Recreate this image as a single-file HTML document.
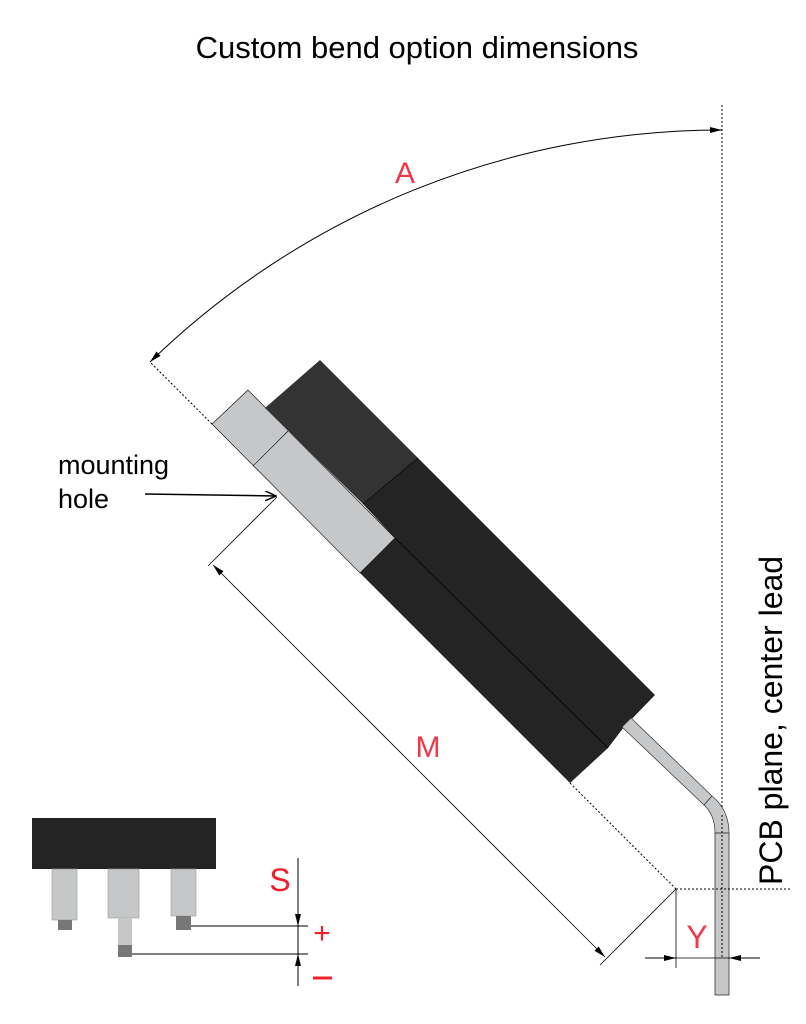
<!DOCTYPE html>
<html><head><style>body{margin:0;background:#fff}svg{display:block}</style></head><body>
<svg width="806" height="1024" viewBox="0 0 806 1024" xmlns="http://www.w3.org/2000/svg" font-family="Liberation Sans, sans-serif">
<defs>
<marker id="ar" markerWidth="12" markerHeight="6" refX="12" refY="3" orient="auto-start-reverse" markerUnits="userSpaceOnUse"><path d="M0,0 L12,3 L0,6 Z" fill="#000"/></marker>
<marker id="oa" markerWidth="12" markerHeight="10" refX="11" refY="5" orient="auto" markerUnits="userSpaceOnUse"><path d="M0,0 L11,5 L0,10" fill="none" stroke="#000" stroke-width="1.5"/></marker>
</defs>
<text x="417" y="58" font-size="31" text-anchor="middle">Custom bend option dimensions</text>
<!-- arc A -->
<path d="M150,362 A821,821 0 0 1 722,130" fill="none" stroke="#000" stroke-width="1" marker-start="url(#ar)" marker-end="url(#ar)"/>
<text x="405" y="183" font-size="30" fill="#f0384a" text-anchor="middle">A</text>
<line x1="722" y1="105" x2="722" y2="960" stroke="#000" stroke-dasharray="2,2"/>
<line x1="212" y1="424" x2="150" y2="362" stroke="#000" stroke-dasharray="2,2"/>
<!-- body -->
<polygon points="248,390 212,424 360,573 395,538" fill="#c6c7c9" stroke="#000" stroke-width="0.6"/>
<line x1="288" y1="431" x2="253" y2="466" stroke="#000" stroke-width="0.6"/>
<polygon points="265,408 320,360 418,458 363,504" fill="#333"/>
<polygon points="363,504 418,458 655,695 624,727 608,748 570,783 360,573 395,538" fill="#242424"/>
<line x1="395" y1="538" x2="608" y2="748" stroke="#000" stroke-width="0.8"/>
<line x1="363" y1="504" x2="418" y2="458" stroke="#000" stroke-width="0.6"/>
<!-- lead -->
<polygon points="622,727 631,718 712,796 704,805" fill="#c6c7c9" stroke="#333" stroke-width="0.7"/>
<path d="M704,805 L712,796 Q729,810 729,833 L715,833 Q715,815 704,805 Z" fill="#c6c7c9" stroke="#333" stroke-width="0.7"/>
<rect x="715" y="833" width="14" height="162" fill="#c6c7c9" stroke="#333" stroke-width="0.8"/>
<line x1="722" y1="815" x2="722" y2="958" stroke="#000" stroke-dasharray="2,2"/>
<!-- PCB text -->
<text transform="translate(782,885) rotate(-90)" font-size="32">PCB plane, center lead</text>
<line x1="676" y1="889" x2="790" y2="889" stroke="#000" stroke-dasharray="2,2"/>
<line x1="570" y1="783" x2="676" y2="889" stroke="#000" stroke-dasharray="2,2"/>
<!-- M dim -->
<line x1="277" y1="497" x2="208" y2="566" stroke="#000" stroke-width="0.8"/>
<line x1="676" y1="889" x2="600" y2="965" stroke="#000" stroke-width="0.8"/>
<line x1="213" y1="565" x2="605" y2="957" stroke="#000" stroke-width="0.8" marker-start="url(#ar)" marker-end="url(#ar)"/>
<text x="428" y="757" font-size="30" fill="#f0384a" text-anchor="middle">M</text>
<!-- mounting hole -->
<text x="58" y="474" font-size="27">mounting</text>
<text x="58" y="508" font-size="27">hole</text>
<line x1="145" y1="494" x2="276" y2="496" stroke="#000" stroke-width="1.5" marker-end="url(#oa)"/>
<!-- Y dim -->
<line x1="676" y1="889" x2="676" y2="968" stroke="#000" stroke-width="0.8"/>
<line x1="645" y1="958" x2="676" y2="958" stroke="#000" marker-end="url(#ar)"/>
<line x1="760" y1="958" x2="729" y2="958" stroke="#000" marker-end="url(#ar)"/>
<line x1="676" y1="958" x2="729" y2="958" stroke="#000" stroke-width="0.8"/>
<text x="697" y="948" font-size="32" fill="#f0384a" text-anchor="middle">Y</text>
<!-- small component -->
<rect x="32" y="818" width="184" height="51" fill="#242424"/>
<rect x="52" y="869" width="25" height="51" fill="#c6c7c9" stroke="#999" stroke-width="0.6"/>
<rect x="58" y="920" width="14" height="10" fill="#777"/>
<rect x="108" y="869" width="31" height="49" fill="#c6c7c9" stroke="#999" stroke-width="0.6"/>
<rect x="118" y="918" width="14" height="27" fill="#c6c7c9"/>
<rect x="118" y="945" width="14" height="12" fill="#777"/>
<rect x="171" y="869" width="25" height="47" fill="#c6c7c9" stroke="#999" stroke-width="0.6"/>
<rect x="176" y="916" width="15" height="14" fill="#777"/>
<line x1="191" y1="926" x2="308" y2="926" stroke="#000"/>
<line x1="132" y1="954" x2="308" y2="954" stroke="#000"/>
<line x1="298" y1="858" x2="298" y2="986" stroke="#000"/>
<line x1="298" y1="900" x2="298" y2="926" stroke="#000" marker-end="url(#ar)"/>
<line x1="298" y1="980" x2="298" y2="954" stroke="#000" marker-end="url(#ar)"/>
<text x="280" y="891" font-size="32" fill="#f0202a" text-anchor="middle">S</text>
<text x="322" y="943" font-size="30" fill="#f0202a" text-anchor="middle">+</text>
<line x1="313" y1="978" x2="332" y2="978" stroke="#f0202a" stroke-width="3"/>
</svg>
</body></html>
